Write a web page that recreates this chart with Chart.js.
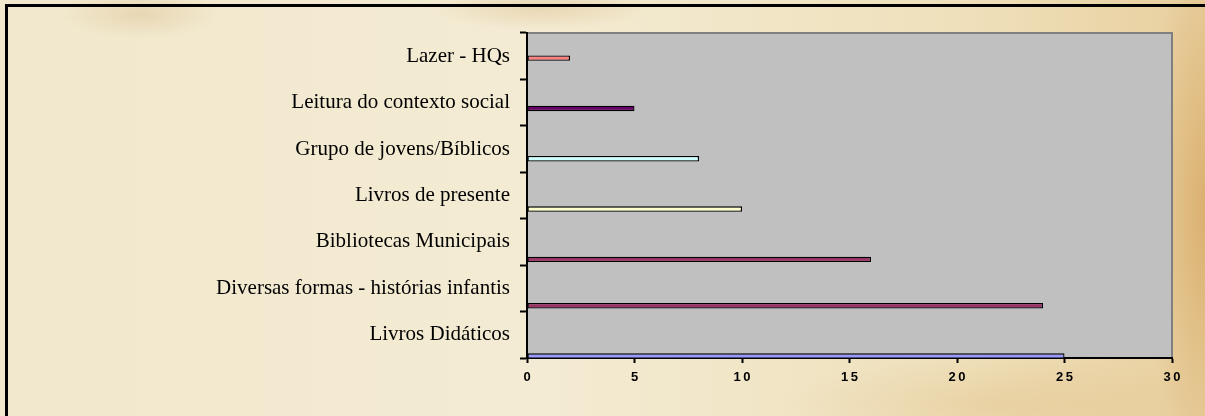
<!DOCTYPE html>
<html>
<head>
<meta charset="utf-8">
<script src="https://cdn.jsdelivr.net/npm/chart.js@4.4.1/dist/chart.umd.min.js"></script>
<style>
    html, body {
        margin: 0;
        padding: 0;
    }
    body {
        width: 1205px;
        height: 416px;
        overflow: hidden;
        position: relative;
        background:
            radial-gradient(ellipse 80px 25px at 140px 14px, rgba(205, 160, 95, 0.25), transparent),
            radial-gradient(ellipse 110px 22px at 540px 8px, rgba(205, 155, 85, 0.25), transparent),
            radial-gradient(ellipse 60px 260px at 1205px 210px, rgba(205, 145, 65, 0.5), transparent),
            radial-gradient(ellipse 220px 50px at 1000px 405px, rgba(215, 170, 100, 0.25), transparent),
            linear-gradient(90deg, #f1e8cd 0%, #f3ebd3 45%, #efe0bb 80%, #e8cf9e 100%);
    }
    .frame {
        position: absolute;
        left: 5px;
        top: 4px;
        width: 1300px;
        height: 500px;
        border-top: 3px solid #000;
        border-left: 3px solid #000;
    }
    #chart {
        position: absolute;
        left: 0;
        top: 0;
    }
</style>
</head>
<body>
<div class="frame"></div>
<canvas id="chart" width="1205" height="416"></canvas>
<script>
    // categories, top to bottom
    const categories = [
        'Lazer - HQs',
        'Leitura do contexto social',
        'Grupo de jovens/Bíblicos',
        'Livros de presente',
        'Bibliotecas Municipais',
        'Diversas formas - histórias infantis',
        'Livros Didáticos'
    ];
    const values = [2, 5, 8, 10, 16, 24, 25];
    // which colour series each category belongs to
    const seriesOf = [0, 1, 2, 3, 4, 4, 5];
    const seriesColors = ['#FF8080', '#660066', '#CCFFFF', '#FFFFCC', '#993366', '#9999FF'];
    const xTicks = [0, 5, 10, 15, 20, 25, 30];

    // empty slots above the series, so bars sit low in each band like the original
    let datasets = [];
    for (let i = 0; i < seriesColors.length; i++) {
        datasets.push({ data: categories.map(() => null) });
    }
    seriesColors.forEach(function (color, s) {
        datasets.push({
            data: values.map((v, i) => seriesOf[i] === s ? v : null),
            backgroundColor: color,
            borderColor: '#000',
            borderWidth: 1.3,
            borderSkipped: false
        });
    });

    const plotBackground = {
        id: 'plotBackground',
        beforeDraw(chart) {
            const { ctx, chartArea: a } = chart;
            ctx.save();
            ctx.fillStyle = '#C0C0C0';
            ctx.fillRect(a.left, a.top, a.right - a.left, a.bottom - a.top);
            ctx.strokeStyle = '#808080';
            ctx.lineWidth = 2;
            ctx.beginPath();
            ctx.moveTo(a.left, a.top);
            ctx.lineTo(a.right, a.top);
            ctx.lineTo(a.right, a.bottom);
            ctx.stroke();
            ctx.restore();
        }
    };

    let ctx = document.getElementById('chart').getContext('2d');
    let myChart = new Chart(ctx, {
        type: 'bar',
        data: {
            labels: categories,
            datasets: datasets
        },
        options: {
            indexAxis: 'y',
            responsive: false,
            devicePixelRatio: 1,
            animation: false,
            layout: {
                padding: { top: 33, right: 33, left: 0, bottom: 0 }
            },
            datasets: {
                bar: {
                    categoryPercentage: 1.0,
                    barPercentage: 1.4
                }
            },
            scales: {
                x: {
                    min: 0,
                    max: 30,
                    afterBuildTicks: function (scale) {
                        scale.ticks = xTicks.map(v => ({ value: v }));
                    },
                    afterFit: function (scale) {
                        scale.height = 58;
                    },
                    ticks: {
                        color: '#000',
                        padding: 7,
                        maxRotation: 0,
                        font: { family: '"Liberation Sans", Arial', size: 13, weight: 'bold' },
                        callback: function (value) {
                            return String(value).split('').join('\u2009');
                        }
                    },
                    grid: {
                        drawOnChartArea: false,
                        drawTicks: true,
                        tickLength: 5,
                        tickColor: '#000',
                        tickWidth: 2
                    },
                    border: { color: '#000', width: 2 }
                },
                y: {
                    afterFit: function (scale) {
                        scale.width = 527;
                    },
                    ticks: {
                        color: '#000',
                        padding: 10,
                        font: { family: '"Liberation Serif", "Times New Roman", serif', size: 21 }
                    },
                    grid: {
                        offset: true,
                        drawOnChartArea: false,
                        drawTicks: true,
                        tickLength: 7,
                        tickColor: '#000',
                        tickWidth: 2
                    },
                    border: { color: '#000', width: 2 }
                }
            },
            plugins: {
                legend: { display: false },
                tooltip: { enabled: false }
            }
        },
        plugins: [plotBackground]
    });
</script>
</body>
</html>
